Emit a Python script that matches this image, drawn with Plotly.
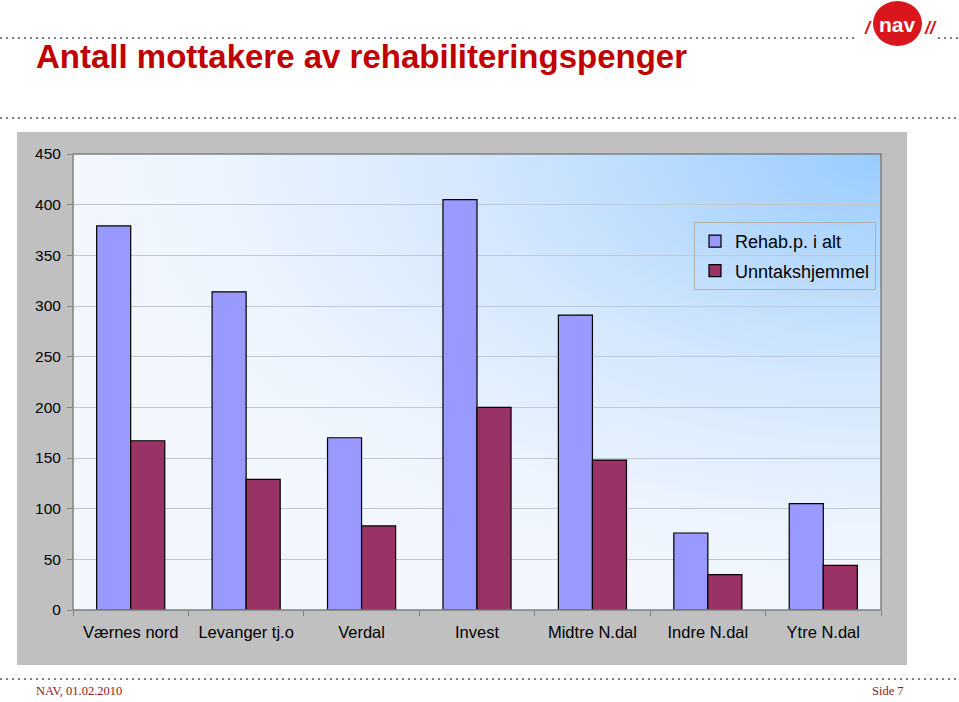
import base64
import plotly.graph_objects as go

categories = ["Værnes nord", "Levanger tj.o", "Verdal", "Invest", "Midtre N.dal", "Indre N.dal", "Ytre N.dal"]
rehab_total = [379, 314, 170, 405, 291, 76, 105]
unntak = [167, 129, 83, 200, 148, 35, 44]
series_names = ["Rehab.p. i alt", "Unntakshjemmel"]
y_ticks = [0, 50, 100, 150, 200, 250, 300, 350, 400, 450]

W, H = 959, 702
PL, PR, PT, PB = 73, 881, 154, 610  # plot area in pixels

fig = go.Figure()
fig.add_trace(go.Bar(x=categories, y=rehab_total, name=series_names[0], legendgroup="a",
                     marker=dict(color="#9999ff", line=dict(color="#000000", width=1.2))))
fig.add_trace(go.Bar(x=categories, y=unntak, name=series_names[1], legendgroup="b",
                     marker=dict(color="#993366", line=dict(color="#000000", width=1.2))))

svg = f'''<svg xmlns="http://www.w3.org/2000/svg" width="{W}" height="{H}" viewBox="0 0 {W} {H}" preserveAspectRatio="none">
<defs><radialGradient id="g" cx="1" cy="0" r="1.0" gradientUnits="objectBoundingBox">
<stop offset="0" stop-color="#99ccff"/><stop offset="0.5" stop-color="#d4e7fd"/><stop offset="0.85" stop-color="#eef5fe"/><stop offset="1" stop-color="#f2f7fe"/>
</radialGradient></defs>
<rect x="17" y="132" width="890" height="533" fill="#c0c0c0"/>
<rect x="{PL}" y="{PT}" width="{PR-PL}" height="{PB-PT}" fill="url(#g)"/>
</svg>'''
src = "data:image/svg+xml;base64," + base64.b64encode(svg.encode()).decode()
pw, ph = PR - PL, PB - PT
fig.add_layout_image(dict(source=src, xref="paper", yref="paper",
                          x=-PL / pw, y=PB / ph, sizex=W / pw, sizey=H / ph,
                          xanchor="left", yanchor="top", sizing="stretch", layer="below"))

def px_x(x):
    return (x - PL) / pw

def px_y(y):
    return (PB - y) / ph

shapes = []
shapes.append(dict(type="rect", xref="paper", yref="paper", x0=0, x1=1, y0=0, y1=1,
                   line=dict(color="#808080", width=1.5), layer="above"))
for (xa, xb, y) in [(0, 857, 38), (938, 959, 38), (0, 959, 118), (0, 959, 679)]:
    shapes.append(dict(type="line", xref="paper", yref="paper",
                       x0=px_x(xa), x1=px_x(xb), y0=px_y(y), y1=px_y(y),
                       line=dict(color="#808080", width=2, dash="2px,4px")))
shapes.append(dict(type="circle", xref="paper", yref="paper",
                   x0=px_x(873), x1=px_x(922), y0=px_y(46), y1=px_y(1),
                   fillcolor="#d8161b", line=dict(width=0)))
fig.update_layout(shapes=shapes)

annotations = [
    dict(text="<b>Antall mottakere av rehabiliteringspenger</b>", xref="paper", yref="paper",
         x=px_x(34), y=px_y(57), xanchor="left", yanchor="middle", showarrow=False,
         font=dict(family="Liberation Sans, Arial", size=33, color="#c00000")),
    dict(text="<b>nav</b>", xref="paper", yref="paper",
         x=px_x(897), y=px_y(25), xanchor="center", yanchor="middle", showarrow=False,
         font=dict(family="Liberation Sans, Arial", size=21, color="#ffffff")),
    dict(text="<b><i>/</i></b>", xref="paper", yref="paper",
         x=px_x(868), y=px_y(28), xanchor="center", yanchor="middle", showarrow=False,
         font=dict(family="Liberation Sans, Arial", size=18, color="#d8161b")),
    dict(text="<b><i>//</i></b>", xref="paper", yref="paper",
         x=px_x(930), y=px_y(28), xanchor="center", yanchor="middle", showarrow=False,
         font=dict(family="Liberation Sans, Arial", size=18, color="#d8161b")),
    dict(text="NAV, 01.02.2010", xref="paper", yref="paper",
         x=px_x(34), y=px_y(691), xanchor="left", yanchor="middle", showarrow=False,
         font=dict(family="Liberation Serif, Times New Roman", size=12.5, color="#8b1a1a")),
    dict(text="Side 7", xref="paper", yref="paper",
         x=px_x(906), y=px_y(691), xanchor="right", yanchor="middle", showarrow=False,
         font=dict(family="Liberation Serif, Times New Roman", size=12.5, color="#8b1a1a")),
]
fig.update_layout(annotations=annotations)

fig.update_layout(
    width=W, height=H,
    margin=dict(l=PL, r=W - PR, t=PT, b=H - PB, pad=0),
    paper_bgcolor="#ffffff", plot_bgcolor="rgba(0,0,0,0)",
    barmode="group", bargap=0.41, bargroupgap=0,
    font=dict(family="Liberation Sans, Arial", size=16, color="#000000"),
    showlegend=True,
    legend=dict(x=px_x(694), y=px_y(222), xanchor="left", yanchor="top",
                bgcolor="rgba(0,0,0,0)", bordercolor="#b0b0b0", borderwidth=1,
                font=dict(size=18, color="#000000"), itemwidth=30,
                tracegroupgap=3),
)
fig.update_xaxes(type="category", tickson="boundaries", ticks="outside", ticklen=5,
                 tickcolor="#808080", showgrid=False, showline=False,
                 tickfont=dict(size=16.5), ticklabelstandoff=10)
fig.update_yaxes(range=[0, 450], tickvals=y_ticks, ticks="outside", ticklen=5,
                 tickcolor="#808080", showgrid=True, gridcolor="#c0c8d4", gridwidth=1,
                 showline=False, zeroline=False, tickfont=dict(size=15.5),
                 ticklabelstandoff=3)

fig.write_html("out.html", config={"displayModeBar": False},
               post_script="document.body.style.margin='0px';")
